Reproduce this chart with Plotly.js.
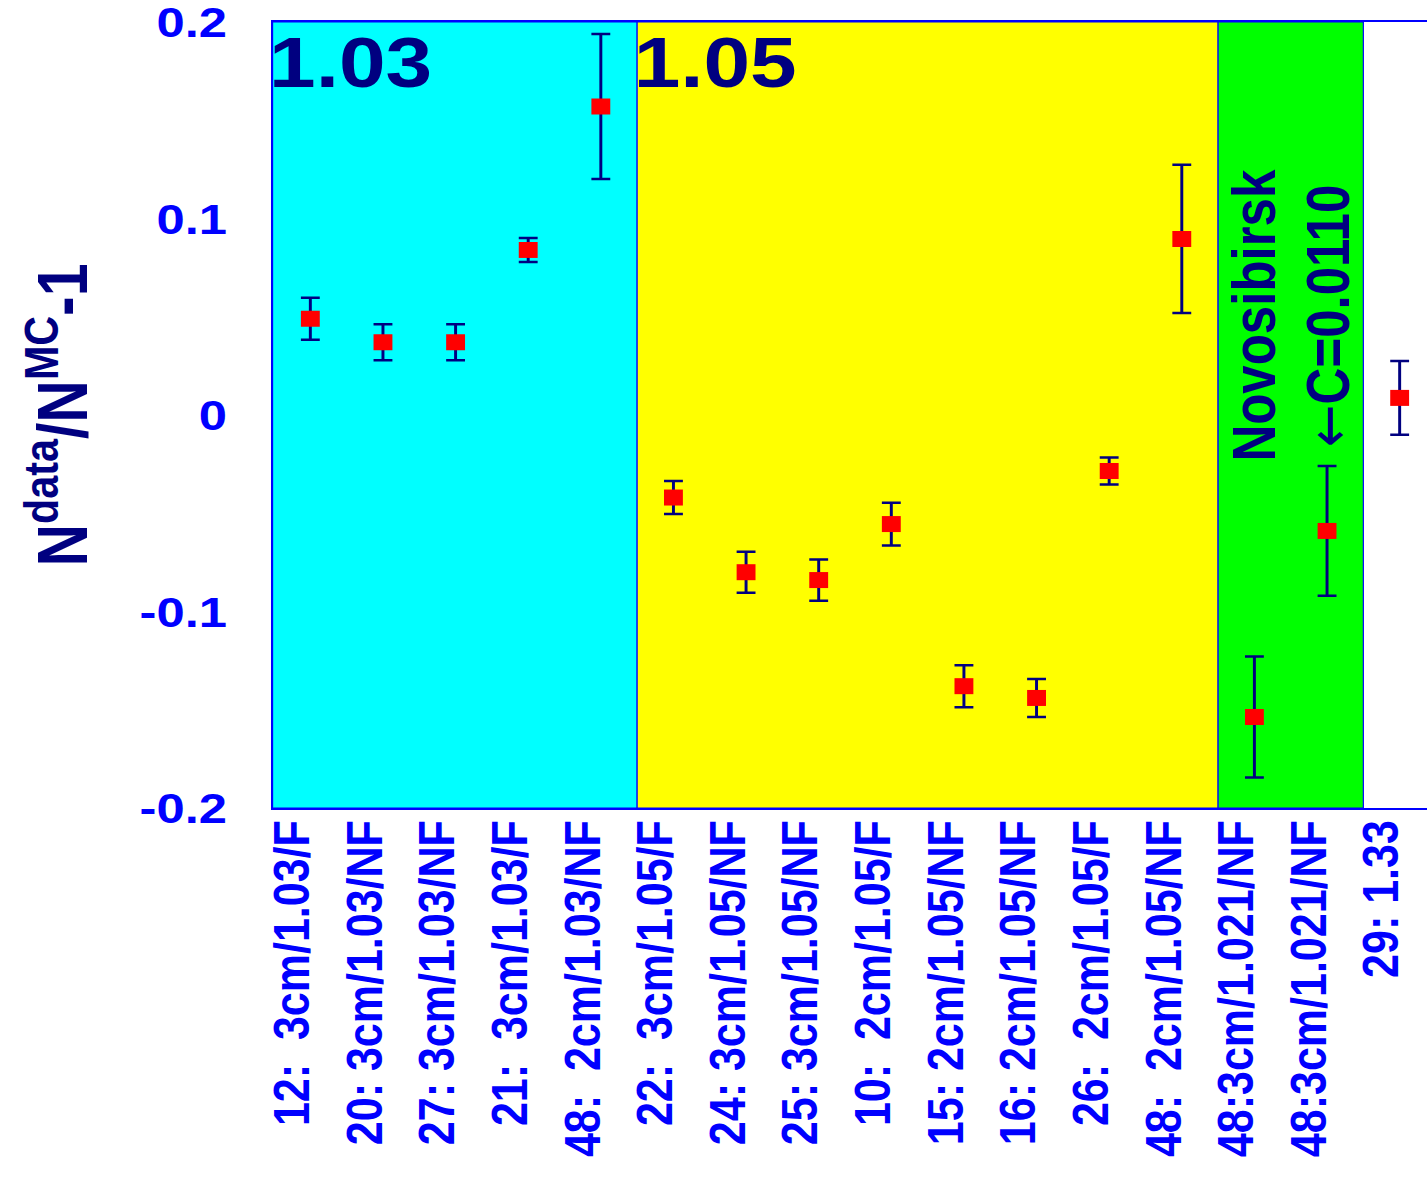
<!DOCTYPE html>
<html>
<head>
<meta charset="utf-8">
<script src="https://cdn.plot.ly/plotly-3.0.1.min.js"></script>
<style>
html, body { margin: 0; padding: 0; overflow: hidden; background: #fff; width: 1427px; height: 1181px; }
/* the reference image is stretched horizontally (non-uniform aspect), reproduce via scaleX */
#chart { width: 1225px; height: 1181px; transform: scaleX(1.18); transform-origin: 0 0; }
</style>
</head>
<body>
<div id="chart"></div>
<script>
// ---- data ----
const labels = [
  "12:\u00a0 3cm/1.03/F", "20: 3cm/1.03/NF", "27: 3cm/1.03/NF", "21:\u00a0 3cm/1.03/F", "48:\u00a0 2cm/1.03/NF",
  "22:\u00a0 3cm/1.05/F", "24: 3cm/1.05/NF", "25: 3cm/1.05/NF", "10:\u00a0 2cm/1.05/F", "15: 2cm/1.05/NF",
  "16: 2cm/1.05/NF", "26:\u00a0 2cm/1.05/F", "48:\u00a0 2cm/1.05/NF", "48:3cm/1.021/NF", "48:3cm/1.021/NF", "29: 1.33"
];
const values = [0.049, 0.037, 0.037, 0.084, 0.157, -0.042, -0.080, -0.084, -0.0555, -0.138, -0.144, -0.0285, 0.0896, -0.1537, -0.059, 0.0087];
const errors = [0.0107, 0.0092, 0.0092, 0.0061, 0.0369, 0.0084, 0.0104, 0.0105, 0.0109, 0.0107, 0.0097, 0.0069, 0.0377, 0.0308, 0.033, 0.0188];
const yTicks = [-0.2, -0.1, 0, 0.1, 0.2];
const yTickText = ["-0.2", "-0.1", "0", "0.1", "0.2"];
const groups = [
  { from: -0.52, to: 4.5, color: "#00FFFF", label: "1.03" },
  { from: 4.5, to: 12.5, color: "#FFFF00", label: "1.05" },
  { from: 12.5, to: 14.5, color: "#00FF00", label: null }
];

const idx = labels.map((_, i) => i);
const NAVY = "#000080";
const BLUE = "#0000FF";
const FONT = "Liberation Sans, Arial, Helvetica, sans-serif";

const trace = {
  x: idx,
  y: values,
  type: "scatter",
  mode: "markers",
  marker: { symbol: "square", size: 16, color: "#FF0000" },
  error_y: { type: "data", array: errors, visible: true, color: NAVY, thickness: 2.5, width: 8 },
  showlegend: false,
  hoverinfo: "x+y"
};

const shapes = groups.map(g => ({
  type: "rect", xref: "x", yref: "y", x0: g.from, x1: g.to, y0: -0.2, y1: 0.2,
  fillcolor: g.color, line: { color: BLUE, width: 1 }, layer: "below"
}));

const annotations = [];
groups.forEach(g => {
  if (g.label) annotations.push({
    xref: "x", yref: "y", x: g.from, y: 0.1795, xanchor: "left", yanchor: "middle",
    xshift: -5, text: "<b>" + g.label + "</b>", showarrow: false,
    font: { family: FONT, size: 71, color: NAVY }
  });
});
annotations.push({
  xref: "x", yref: "y", x: 13, y: 0.0506, text: "<b>Novosibirsk</b>", textangle: -90, showarrow: false,
  xshift: 0, font: { family: FONT, size: 51, color: NAVY }
});
annotations.push({
  xref: "x", yref: "y", x: 14, y: 0.0506,
  text: "<span style=\"font-family:DejaVu Sans\">\u2190</span><b>C=0.0110</b>",
  textangle: -90, showarrow: false,
  xshift: 1, font: { family: FONT, size: 51, color: NAVY }
});

const layout = {
  width: 1225, height: 1181,
  margin: { l: 230.5, r: 4.7, t: 22, b: 373 },
  paper_bgcolor: "#FFFFFF", plot_bgcolor: "#FFFFFF",
  xaxis: {
    range: [-0.52, 15.55], tickvals: idx, ticktext: labels, tickangle: -90,
    tickfont: { family: FONT, size: 43, color: BLUE, weight: "bold" },
    ticks: "outside", ticklen: 0, tickcolor: "rgba(0,0,0,0)", ticklabelshift: -15, ticklabelstandoff: -7,
    showgrid: false, zeroline: false, showline: true, mirror: true, linecolor: BLUE, linewidth: 2,
    automargin: false, fixedrange: true
  },
  yaxis: {
    range: [-0.2, 0.2], tickvals: yTicks, ticktext: yTickText, ticklabeloverflow: "allow",
    tickfont: { family: FONT, size: 43, color: BLUE, weight: "bold" },
    ticks: "outside", ticklen: 29, tickcolor: "rgba(0,0,0,0)",
    showgrid: false, zeroline: false, showline: true, linecolor: BLUE, linewidth: 1,
    title: { text: "N<sup>data</sup>/N<sup>MC</sup>-1", standoff: 24,
      font: { family: FONT, size: 59, color: NAVY, weight: "bold" } },
    automargin: false, fixedrange: true
  },
  shapes: shapes,
  annotations: annotations
};

Plotly.newPlot("chart", [trace], layout, { displayModeBar: false, staticPlot: true });
</script>
</body>
</html>
